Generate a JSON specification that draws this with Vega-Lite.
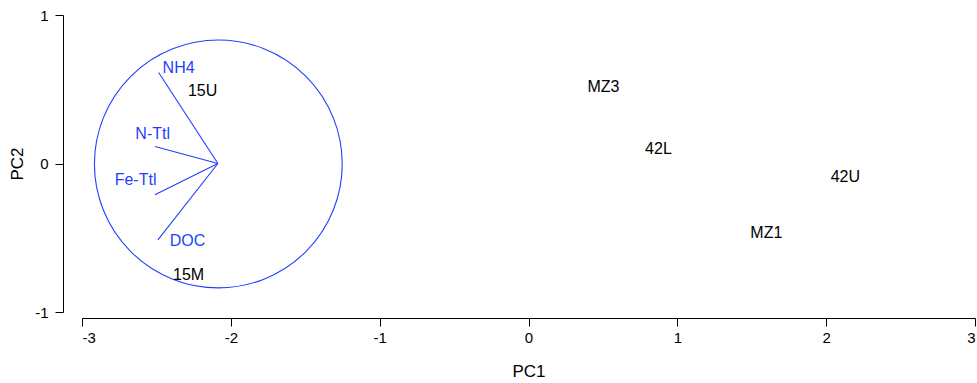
{
  "$schema": "https://vega.github.io/schema/vega-lite/v6.json",
  "autosize": {"type": "none"},
  "padding": {"left": 82, "top": 15, "right": 2, "bottom": 71},
  "width": 893,
  "height": 297,
  "background": "white",
  "config": {
    "view": {"stroke": null},
    "font": "Liberation Sans",
    "axis": {
      "grid": false,
      "domainColor": "black",
      "tickColor": "black",
      "labelColor": "black",
      "titleColor": "black",
      "labelFont": "Liberation Sans",
      "titleFont": "Liberation Sans",
      "labelFontSize": 15,
      "titleFontSize": 17,
      "titleFontWeight": "normal",
      "tickSize": 8,
      "labelExpr": "datum.value + ''"
    }
  },
  "datasets": {
    "labels": [
      {"name": "NH4", "x": -2.351, "y": 0.646, "group": "variable"},
      {"name": "N-Ttl", "x": -2.525, "y": 0.202, "group": "variable"},
      {"name": "Fe-Ttl", "x": -2.640, "y": -0.114, "group": "variable"},
      {"name": "DOC", "x": -2.291, "y": -0.525, "group": "variable"},
      {"name": "15U", "x": -2.190, "y": 0.485, "group": "site"},
      {"name": "15M", "x": -2.284, "y": -0.754, "group": "site"},
      {"name": "MZ3", "x": 0.504, "y": 0.512, "group": "site"},
      {"name": "42L", "x": 0.873, "y": 0.101, "group": "site"},
      {"name": "42U", "x": 2.129, "y": -0.094, "group": "site"},
      {"name": "MZ1", "x": 1.598, "y": -0.465, "group": "site"}
    ],
    "vectors": [
      {"name": "NH4", "x": -2.087, "y": 0, "x2": -2.485, "y2": 0.613},
      {"name": "N-Ttl", "x": -2.087, "y": 0, "x2": -2.510, "y2": 0.114},
      {"name": "Fe-Ttl", "x": -2.087, "y": 0, "x2": -2.510, "y2": -0.211},
      {"name": "DOC", "x": -2.087, "y": 0, "x2": -2.490, "y2": -0.514}
    ],
    "circle": [
      {"x": -2.084, "y": -0.003}
    ]
  },
  "layer": [
    {
      "data": {"name": "circle"},
      "mark": {"type": "point", "shape": "circle", "filled": false, "stroke": "#1f3fff", "strokeWidth": 1.1, "opacity": 1, "clip": false},
      "encoding": {
        "x": {"field": "x", "type": "quantitative", "scale": {"domain": [-3, 3], "nice": false, "zero": false},
              "axis": {"title": "PC1", "values": [-3, -2, -1, 0, 1, 2, 3], "offset": 6, "labelPadding": 4, "titlePadding": 18}},
        "y": {"field": "y", "type": "quantitative", "scale": {"domain": [-1, 1], "nice": false, "zero": false},
              "axis": {"title": "PC2", "values": [-1, 0, 1], "offset": 19, "labelPadding": 7, "titlePadding": 8}},
        "size": {"value": 61400}
      }
    },
    {
      "data": {"name": "vectors"},
      "mark": {"type": "rule", "color": "#1f3fff", "strokeWidth": 1.1},
      "encoding": {
        "x": {"field": "x", "type": "quantitative"},
        "y": {"field": "y", "type": "quantitative"},
        "x2": {"field": "x2"},
        "y2": {"field": "y2"}
      }
    },
    {
      "data": {"name": "labels"},
      "mark": {"type": "text", "fontSize": 16, "align": "center", "baseline": "middle", "font": "Liberation Sans"},
      "encoding": {
        "x": {"field": "x", "type": "quantitative"},
        "y": {"field": "y", "type": "quantitative"},
        "text": {"field": "name"},
        "color": {"field": "group", "type": "nominal", "scale": {"domain": ["variable", "site"], "range": ["#1f3fff", "#000000"]}, "legend": null}
      }
    }
  ]
}
